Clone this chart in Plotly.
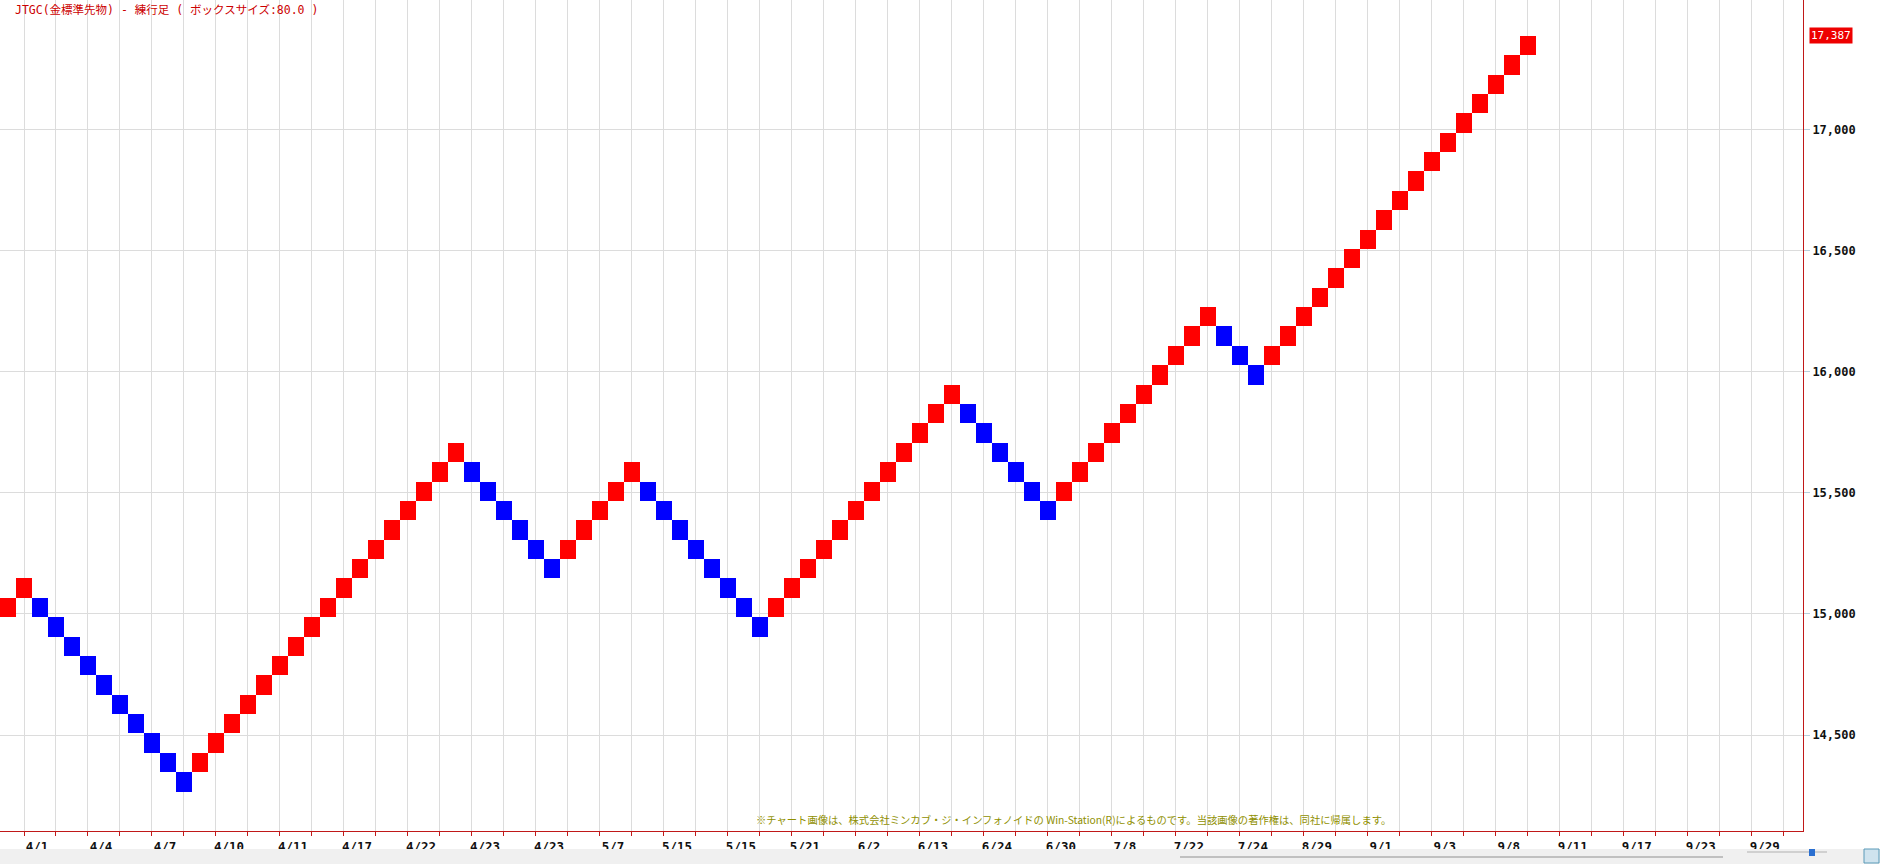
import plotly.graph_objects as go

# ---- data (Renko bricks, box size 80) ----
box_size = 80
brick_low = [
    14987, 15067,
    14987, 14907, 14827, 14747, 14667, 14587, 14507, 14427, 14347, 14267,
    14347, 14427, 14507, 14587, 14667, 14747, 14827, 14907, 14987, 15067, 15147, 15227, 15307, 15387, 15467, 15547, 15627,
    15547, 15467, 15387, 15307, 15227, 15147,
    15227, 15307, 15387, 15467, 15547,
    15467, 15387, 15307, 15227, 15147, 15067, 14987, 14907,
    14987, 15067, 15147, 15227, 15307, 15387, 15467, 15547, 15627, 15707, 15787, 15867,
    15787, 15707, 15627, 15547, 15467, 15387,
    15467, 15547, 15627, 15707, 15787, 15867, 15947, 16027, 16107, 16187,
    16107, 16027, 15947,
    16027, 16107, 16187, 16267, 16347, 16427, 16507, 16587, 16667, 16747, 16827, 16907, 16987, 17067, 17147, 17227, 17307,
]
brick_dir = ("UU" "DDDDDDDDDD" "UUUUUUUUUUUUUUUUU" "DDDDDD" "UUUUU" "DDDDDDDD"
             "UUUUUUUUUUUU" "DDDDDD" "UUUUUUUUUU" "DDD" "UUUUUUUUUUUUUUUUU")
last_price = 17387

tick_cols = [1, 5, 9, 13, 17, 21, 25, 29, 33, 37, 41, 45, 49, 53, 57, 61, 65, 69, 73, 77,
             81, 85, 89, 93, 97, 101, 105, 109]
tick_labels = ["4/1", "4/4", "4/7", "4/10", "4/11", "4/17", "4/22", "4/23", "4/23", "5/7",
               "5/15", "5/15", "5/21", "6/2", "6/13", "6/24", "6/30", "7/8", "7/22", "7/24",
               "8/29", "9/1", "9/3", "9/8", "9/11", "9/17", "9/23", "9/29"]
y_ticks = [14500, 15000, 15500, 16000, 16500, 17000]

title_text = "JTGC(金標準先物) - 練行足 ( ボックスサイズ:80.0 )"
copyright_text = "※チャート画像は、株式会社ミンカブ・ジ・インフォノイドの Win-Station(R)によるものです。当該画像の著作権は、同社に帰属します。"

# ---- build ----
cols = list(range(len(brick_low)))
up_x = [c for c in cols if brick_dir[c] == "U"]
dn_x = [c for c in cols if brick_dir[c] == "D"]

fig = go.Figure()
fig.add_trace(go.Bar(x=up_x, y=[box_size] * len(up_x), base=[brick_low[c] for c in up_x],
                     width=1.0, marker=dict(color="#ff0000", line=dict(width=0)),
                     hoverinfo="skip", showlegend=False))
fig.add_trace(go.Bar(x=dn_x, y=[box_size] * len(dn_x), base=[brick_low[c] for c in dn_x],
                     width=1.0, marker=dict(color="#0000ff", line=dict(width=0)),
                     hoverinfo="skip", showlegend=False))

W, H = 1880, 864
L, R, T, B = 0, 77, 0, 33
plot_h = H - T - B

axis_red = "#c01818"
grid = "#dcdcdc"

fig.update_layout(
    width=W, height=H,
    margin=dict(l=L, r=R, t=T, b=B, pad=0),
    paper_bgcolor="white", plot_bgcolor="white",
    bargap=0, barmode="overlay",
    xaxis=dict(
        range=[-0.5, 112.2], tickmode="array", tickvals=tick_cols, ticktext=tick_labels,
        showgrid=True, gridcolor=grid, gridwidth=1, zeroline=False,
        showline=True, linecolor=axis_red, linewidth=1,
        ticks="outside", ticklen=4, tickcolor=axis_red, ticklabelshift=13, ticklabelstandoff=0,
        tickfont=dict(family="DejaVu Sans Mono", size=12.5, color="#111111", weight="bold"),
        minor=dict(tick0=1, dtick=2, showgrid=True, gridcolor=grid, gridwidth=1,
                   ticks="outside", ticklen=4, tickcolor=axis_red),
        fixedrange=True,
    ),
    yaxis=dict(
        side="right", range=[14104, 17535], tickmode="array", tickvals=y_ticks,
        ticktext=[f"{v:,}" for v in y_ticks],
        showgrid=True, gridcolor=grid, gridwidth=1, zeroline=False,
        showline=True, linecolor=axis_red, linewidth=1,
        ticks="outside", ticklen=6, tickcolor="#b8d0dc",
        tickfont=dict(family="DejaVu Sans Mono", size=12, color="#111111", weight="bold"),
        fixedrange=True,
    ),
    font=dict(family="Noto Sans CJK JP"),
)

# title
fig.add_annotation(text=title_text, xref="paper", yref="paper", x=13 / (W - L - R), y=1,
                   xanchor="left", yanchor="top", yshift=-1, showarrow=False,
                   font=dict(family="DejaVu Sans Mono, Noto Sans CJK JP", size=11.5, color="#cc0000"))
# last price box
fig.add_annotation(text=f"{last_price:,}", xref="paper", yref="y", x=1, y=last_price,
                   xanchor="left", yanchor="middle", xshift=6, showarrow=False,
                   bgcolor="#ee0000", borderpad=1,
                   font=dict(family="DejaVu Sans Mono", size=11, color="white"))
# copyright
fig.add_annotation(text=copyright_text, xref="paper", yref="paper",
                   x=1073 / (W - L - R), y=(plot_h - (819 - T)) / plot_h,
                   xanchor="center", yanchor="middle", showarrow=False,
                   font=dict(family="Noto Sans CJK JP", size=10.3, color="#8f8f00"))

# bottom UI band (decoration)
def py(pix):
    return (plot_h - (pix - T)) / plot_h

def px(pix):
    return (pix - L) / (W - L - R)

fig.add_shape(type="rect", xref="paper", yref="paper", x0=px(0), x1=px(W), y0=py(849), y1=py(864),
              fillcolor="#f0f0f0", line=dict(width=0), layer="above")
fig.add_shape(type="line", xref="paper", yref="paper", x0=px(1180), x1=px(1723), y0=py(857), y1=py(857),
              line=dict(color="#909090", width=1), layer="above")
fig.add_shape(type="line", xref="paper", yref="paper", x0=px(1747), x1=px(1827), y0=py(852), y1=py(852),
              line=dict(color="#b0b0b0", width=1), layer="above")
fig.add_shape(type="rect", xref="paper", yref="paper", x0=px(1809), x1=px(1815), y0=py(856), y1=py(849),
              fillcolor="#2a6fd0", line=dict(width=0), layer="above")
fig.add_shape(type="rect", xref="paper", yref="paper", x0=px(1864), x1=px(1879), y0=py(863), y1=py(849),
              fillcolor="#cfe3ee", line=dict(color="#5a9ab8", width=1), layer="above")

fig.write_html("out.html", config={"displayModeBar": False},
               post_script="document.body.style.margin='0';document.body.style.overflow='hidden';")
